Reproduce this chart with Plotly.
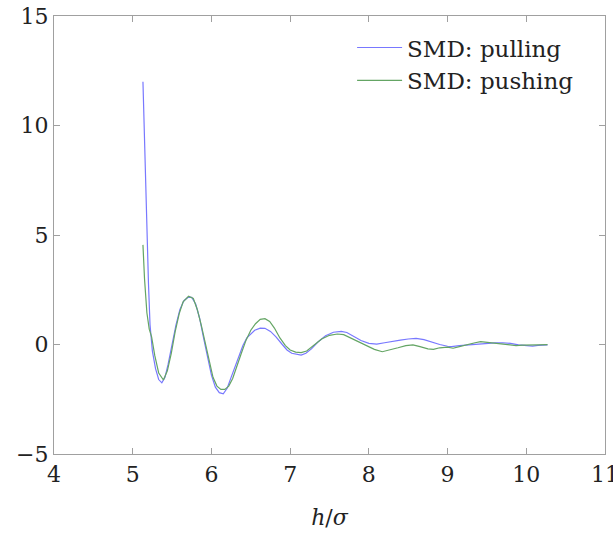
import plotly.graph_objects as go

pull_x = [5.13, 5.155, 5.18, 5.20, 5.22, 5.25, 5.29, 5.33, 5.37, 5.41, 5.45, 5.50, 5.55, 5.60,
          5.65, 5.70, 5.75, 5.80, 5.85, 5.90, 5.95, 6.00, 6.05, 6.10, 6.15, 6.20, 6.25, 6.30,
          6.35, 6.40, 6.45, 6.50, 6.55, 6.62, 6.68, 6.75, 6.82, 6.90, 6.96, 7.02, 7.08, 7.14,
          7.20, 7.27, 7.35, 7.45, 7.55, 7.65, 7.72, 7.80, 7.90, 8.00, 8.10, 8.20, 8.30, 8.40,
          8.50, 8.60, 8.70, 8.80, 8.90, 9.00, 9.05, 9.15, 9.30, 9.45, 9.60, 9.70, 9.80, 9.90,
          10.00, 10.08, 10.15, 10.27]
pull_y = [12.0, 8.5, 5.1, 2.8, 0.9, -0.3, -1.1, -1.6, -1.75, -1.5, -0.9, 0.0, 0.9, 1.6,
          2.0, 2.15, 2.15, 1.85, 1.2, 0.3, -0.6, -1.4, -1.95, -2.2, -2.25, -2.0, -1.5, -1.0,
          -0.5, -0.05, 0.3, 0.5, 0.65, 0.75, 0.74, 0.6, 0.35, 0.0, -0.25, -0.4, -0.45, -0.48,
          -0.4, -0.2, 0.1, 0.4, 0.56, 0.6, 0.55, 0.38, 0.18, 0.05, 0.02, 0.08, 0.15, 0.2,
          0.25, 0.28, 0.22, 0.1, 0.0, -0.08, -0.1, -0.05, 0.0, 0.03, 0.07, 0.08, 0.05, -0.02,
          -0.05, -0.07, -0.04, -0.02]

push_x = [5.13, 5.15, 5.18, 5.21, 5.24, 5.28, 5.33, 5.39, 5.44, 5.49, 5.54, 5.59, 5.64, 5.71,
          5.77, 5.82, 5.87, 5.92, 5.97, 6.02, 6.07, 6.12, 6.17, 6.22, 6.27, 6.32, 6.38, 6.44,
          6.50, 6.56, 6.62, 6.68, 6.74, 6.80, 6.87, 6.94, 7.00, 7.07, 7.14, 7.21, 7.30, 7.40,
          7.50, 7.60, 7.68, 7.77, 7.87, 7.97, 8.07, 8.17, 8.27, 8.37, 8.47, 8.56, 8.65, 8.75,
          8.82, 8.90, 9.00, 9.07, 9.15, 9.25, 9.35, 9.42, 9.50, 9.57, 9.65, 9.75, 9.87, 9.95,
          10.05, 10.15, 10.27]
push_y = [4.55, 3.0, 1.45, 0.7, 0.35, -0.5, -1.3, -1.62, -1.2, -0.4, 0.6, 1.4, 1.95, 2.2,
          2.1, 1.6, 0.9, 0.05, -0.8, -1.5, -1.9, -2.05, -2.05, -1.9, -1.55, -1.0, -0.4, 0.2,
          0.65, 0.95, 1.15, 1.18, 1.05, 0.75, 0.3, -0.05, -0.25, -0.35, -0.37, -0.3, -0.05, 0.25,
          0.42, 0.48, 0.45, 0.3, 0.12, -0.05, -0.22, -0.33, -0.25, -0.15, -0.05, -0.02, -0.1, -0.2,
          -0.22, -0.15, -0.12, -0.17, -0.1, 0.0, 0.08, 0.13, 0.1, 0.08, 0.05, 0.02, -0.05, -0.03,
          -0.04, -0.02, -0.01]

series_names = ["SMD: pulling", "SMD: pushing"]
x_ticks = [4, 5, 6, 7, 8, 9, 10, 11]
y_ticks = [-5, 0, 5, 10, 15]

FONT = "DejaVu Serif"
FS = 22
TXT = "#222"
fig = go.Figure()
fig.add_trace(go.Scatter(x=pull_x, y=pull_y, mode="lines", name=series_names[0],
                         legendgroup="a",
                         line=dict(color="rgb(120,120,255)", width=1.2)))
fig.add_trace(go.Scatter(x=push_x, y=push_y, mode="lines", name=series_names[1],
                         legendgroup="b",
                         line=dict(color="rgb(100,165,100)", width=1.2)))

axis_common = dict(showline=True, mirror="allticks", linecolor="#a0a0a0", linewidth=1.3,
                   ticks="inside", ticklen=6, tickcolor="#a0a0a0", tickwidth=1,
                   showgrid=False, zeroline=False, ticklabeloverflow="allow",
                   automargin=False,
                   tickfont=dict(family=FONT, size=FS, color=TXT))
fig.update_xaxes(range=[4, 11], tickvals=x_ticks, **axis_common,
                 title=dict(text="<i>h</i>/<i>σ</i>", font=dict(family=FONT, size=FS, color=TXT),
                            standoff=24))
fig.update_yaxes(range=[-5, 15], tickvals=y_ticks, **axis_common)

fig.update_layout(
    width=613, height=534,
    margin=dict(l=54, r=8, t=16, b=80),
    plot_bgcolor="white", paper_bgcolor="white",
    font=dict(family=FONT, size=FS, color=TXT),
    showlegend=True,
    legend=dict(x=0.541, y=0.977, xanchor="left", yanchor="top",
                bgcolor="rgba(0,0,0,0)", borderwidth=0,
                font=dict(family=FONT, size=23, color=TXT),
                traceorder="grouped", tracegroupgap=0, itemwidth=45),
)

fig.write_html("out.html")
